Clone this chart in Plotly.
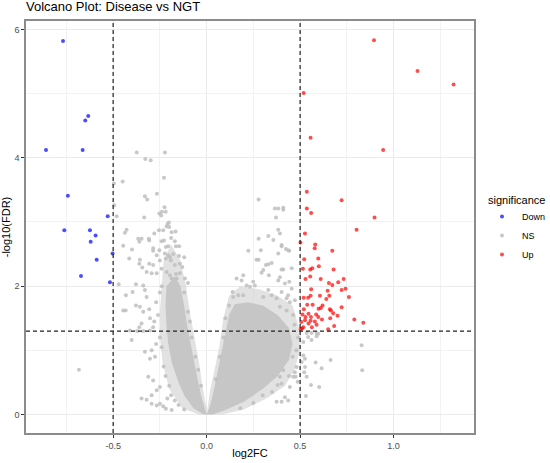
import plotly.graph_objects as go

# --- significant genes ---
down_x = [-0.768, -0.859, -0.663, -0.649, -0.633, -0.742, -0.529, -0.761, -0.624,
          -0.594, -0.620, -0.588, -0.672, -0.517, -0.503]
down_y = [5.82, 4.12, 4.12, 4.58, 4.65, 3.41, 3.09, 2.87, 2.87,
          2.79, 2.69, 2.41, 2.16, 2.06, 2.51]

up_x = [0.895, 1.128, 1.321, 0.519, 0.556, 0.944, 0.536, 0.722, 0.536, 0.559,
        0.898, 0.802, 0.526, 0.502, 0.581, 0.578, 0.672, 0.522, 0.597, 0.515,
        0.554, 0.565, 0.600, 0.679, 0.529, 0.554, 0.610, 0.733, 0.704, 0.654,
        0.672, 0.647, 0.722, 0.743, 0.559, 0.519, 0.543, 0.556, 0.606, 0.656,
        0.761, 0.640, 0.538, 0.567, 0.620, 0.722, 0.520, 0.599, 0.611, 0.659,
        0.665, 0.677, 0.513, 0.529, 0.545, 0.558, 0.586, 0.597, 0.617, 0.700,
        0.790, 0.661, 0.506, 0.526, 0.556, 0.579, 0.838, 0.545, 0.588, 0.682,
        0.650, 0.517, 0.503, 0.510, 0.563]
up_y = [5.83, 5.35, 5.14, 5.01, 4.31, 4.12, 3.47, 3.34, 3.21, 3.14,
        3.07, 2.88, 2.82, 2.68, 2.65, 2.59, 2.55, 2.42, 2.43, 2.27,
        2.26, 2.28, 2.31, 2.26, 2.11, 2.15, 2.11, 2.11, 2.06, 2.05,
        2.02, 1.93, 1.94, 1.96, 1.95, 1.82, 1.82, 1.85, 1.85, 1.85,
        1.83, 1.80, 1.71, 1.71, 1.70, 1.67, 1.64, 1.65, 1.66, 1.64,
        1.62, 1.58, 1.56, 1.52, 1.57, 1.52, 1.56, 1.52, 1.48, 1.54,
        1.48, 1.50, 1.44, 1.47, 1.46, 1.45, 1.43, 1.42, 1.40, 1.38,
        1.33, 1.36, 1.33, 1.34, 1.36]

# --- scattered non-significant genes (outliers and cloud fringe) ---
ns_x = [-0.374, -0.223, -0.328, -0.299, -0.228, -0.496, -0.449, -0.330, -0.318, -0.266,
        -0.494, -0.481, -0.334, -0.225, -0.253, -0.239, -0.219, -0.243, -0.209, -0.202,
        -0.200, -0.214, -0.428, -0.437, -0.255, -0.232, -0.280, -0.187, -0.166, -0.366,
        -0.309, -0.307, -0.446, -0.399, -0.241, -0.228, -0.286, -0.253, -0.218, -0.205,
        -0.164, -0.147, -0.223, -0.205, -0.218, -0.196, -0.178, -0.148, -0.414, -0.357,
        -0.360, -0.344, -0.286, -0.250, -0.241, -0.191, -0.170, -0.143, -0.321, -0.267,
        -0.214, -0.196, -0.164, -0.143, -0.187, -0.160, -0.116, -0.360, -0.348, -0.286,
        -0.267, -0.307, -0.294, -0.339, -0.378, -0.470,
        -0.432, -0.396, -0.330, -0.321, -0.446, -0.433, -0.378, -0.357, -0.339, -0.307,
        -0.348, -0.303, -0.360, -0.286, -0.410, -0.371, -0.339, -0.303, -0.401, -0.330,
        -0.294, -0.276, -0.303, -0.312, -0.286, -0.250, -0.267, -0.348, -0.321, -0.294,
        -0.250, -0.232, -0.218, -0.187, -0.294, -0.267, -0.683,
        -0.270, -0.260, -0.250, -0.240, -0.230, -0.220, -0.200, -0.190, -0.170, -0.150,
        -0.120, -0.250, -0.240, -0.280, -0.270, -0.210, -0.120, -0.100, -0.090, -0.080,
        -0.060, -0.045, -0.030, -0.100, -0.130, -0.120, -0.170, -0.190,
        0.278, 0.365, 0.383, 0.410, 0.410, 0.371, 0.278, 0.383, 0.392, 0.330,
        0.357, 0.223, 0.290, 0.401, 0.424, 0.442, 0.267, 0.278, 0.348, 0.330,
        0.317, 0.401, 0.455, 0.303, 0.294, 0.333, 0.392, 0.442, 0.196, 0.160,
        0.187, 0.249, 0.214, 0.232, 0.258, 0.139, 0.169, 0.196, 0.142, 0.330,
        0.348, 0.303, 0.374, 0.428, 0.445, 0.401, 0.436, 0.383, 0.410, 0.383,
        0.419, 0.455, 0.401, 0.436, 0.472, 0.392, 0.428, 0.463,
        0.597, 0.588, 0.543, 0.561, 0.517, 0.829, 0.663, 0.583, 0.615, 0.832,
        0.517, 0.526, 0.508, 0.526, 0.522, 0.535, 0.558, 0.602, 0.531, 0.476,
        0.472, 0.487, 0.419, 0.436, 0.401, 0.380, 0.392, 0.410, 0.374, 0.481,
        0.463, 0.401, 0.445, 0.535, 0.561, 0.588,
        0.050, 0.070, 0.090, 0.100, 0.120, 0.300, 0.250, 0.180, 0.480, 0.490,
        0.470, 0.350, 0.440, 0.460]
ns_y = [4.08, 4.08, 3.98, 3.96, 3.69, 3.60, 3.63, 3.40, 3.35, 3.44,
        3.26, 3.09, 3.07, 3.23, 3.13, 3.16, 3.16, 3.10, 2.97, 2.99,
        2.92, 2.93, 2.88, 2.83, 2.87, 2.87, 2.82, 2.84, 2.85, 2.74,
        2.74, 2.71, 2.63, 2.57, 2.70, 2.71, 2.55, 2.56, 2.61, 2.62,
        2.62, 2.62, 2.51, 2.48, 2.43, 2.45, 2.50, 2.47, 2.43, 2.41,
        2.35, 2.29, 2.33, 2.40, 2.27, 2.40, 2.33, 2.35, 2.22, 2.20,
        2.22, 2.17, 2.19, 2.20, 2.12, 2.12, 2.12, 2.69, 2.74, 2.59,
        2.48, 2.35, 2.20, 2.01, 2.03, 2.03,
        1.86, 1.91, 1.94, 1.83, 1.62, 1.62, 1.70, 1.68, 1.60, 1.64,
        1.42, 1.50, 1.36, 1.36, 1.31, 1.30, 1.30, 1.31, 1.16, 0.98,
        1.00, 0.90, 0.87, 0.59, 0.53, 0.43, 0.38, 0.25, 0.23, 0.30,
        0.17, 0.13, 0.09, 0.07, 0.17, 0.14, 0.70,
        1.75, 1.55, 1.20, 1.05, 0.75, 0.60, 0.45, 0.30, 0.22, 0.15,
        0.08, 1.90, 2.00, 1.45, 1.10, 0.25, 1.90, 1.60, 1.45, 1.20,
        0.90, 0.70, 0.45, 2.05, 2.30, 2.45, 2.70, 2.75,
        3.35, 3.21, 3.21, 3.22, 3.19, 3.07, 2.74, 2.88, 2.82, 2.78,
        2.72, 2.55, 2.56, 2.62, 2.58, 2.55, 2.41, 2.41, 2.36, 2.34,
        2.33, 2.26, 2.28, 2.25, 2.21, 2.17, 2.14, 2.07, 2.17, 2.12,
        2.09, 2.07, 2.01, 1.99, 2.01, 1.91, 1.86, 1.86, 1.83, 1.94,
        1.86, 1.83, 1.81, 1.81, 1.75, 2.64, 2.56, 2.51, 2.26, 2.09,
        2.04, 1.96, 1.91, 1.86, 1.78, 1.68, 1.62, 1.55,
        1.26, 1.22, 1.21, 1.16, 1.13, 1.08, 0.85, 0.81, 0.72, 0.69,
        0.92, 0.87, 0.82, 0.74, 0.66, 0.59, 0.46, 0.43, 0.29, 0.59,
        0.66, 0.51, 0.27, 0.22, 0.20, 0.46, 0.59, 0.69, 0.20, 0.74,
        0.59, 0.48, 0.43, 1.27, 1.27, 1.27,
        0.55, 0.90, 1.20, 1.50, 1.70, 0.30, 0.18, 0.10, 1.00, 1.20,
        1.40, 0.35, 0.60, 0.90]

# --- outlines of the dense, overplotted V-shaped cloud ---
core_left_x = [0.0, -0.01, -0.03, -0.045, -0.065, -0.085, -0.105, -0.12, -0.14, -0.17,
               -0.215, -0.22, -0.215, -0.205, -0.185, -0.15, -0.12, -0.07, -0.02]
core_left_y = [0.0, 0.1, 0.3, 0.5, 0.8, 1.1, 1.4, 1.7, 2.0, 2.15,
               2.0, 1.7, 1.4, 1.1, 0.8, 0.5, 0.3, 0.1, 0.01]
halo_left_x = [0.0, 0.0, -0.02, -0.04, -0.065, -0.09, -0.11, -0.14, -0.19, -0.23,
               -0.24, -0.25, -0.25, -0.235, -0.2, -0.13, -0.04]
halo_left_y = [0.0, 0.1, 0.4, 0.8, 1.2, 1.6, 2.0, 2.4, 2.65, 2.4,
               2.0, 1.6, 1.2, 0.8, 0.4, 0.1, 0.0]
core_right_x = [0.0, 0.02, 0.04, 0.06, 0.08, 0.10, 0.12, 0.15, 0.22, 0.30,
                0.38, 0.44, 0.46, 0.44, 0.38, 0.30, 0.20, 0.10, 0.03]
core_right_y = [0.0, 0.15, 0.4, 0.7, 1.0, 1.3, 1.55, 1.72, 1.75, 1.7,
                1.55, 1.35, 1.1, 0.85, 0.6, 0.4, 0.2, 0.07, 0.0]
halo_right_x = [0.0, 0.02, 0.05, 0.07, 0.09, 0.12, 0.18, 0.28, 0.38, 0.46,
                0.49, 0.50, 0.47, 0.42, 0.32, 0.20, 0.08]
halo_right_y = [0.0, 0.4, 0.8, 1.1, 1.5, 1.85, 2.0, 1.95, 1.85, 1.7,
                1.4, 1.0, 0.7, 0.45, 0.25, 0.08, 0.0]

fc_cut = 0.5
fdr_cut = 1.301  # -log10(0.05)

GREY = "rgba(190,190,190,0.85)"
BLUE = "rgba(0,0,255,0.7)"
RED = "rgba(255,0,0,0.7)"

W, H = 550, 463
M = dict(l=26, r=76, t=21, b=30)
plot_w = W - M["l"] - M["r"]
plot_h = H - M["t"] - M["b"]

fig = go.Figure()

# dense cloud (halo first, solid core on top)
for px_, py_, col in [(halo_left_x, halo_left_y, "rgba(198,198,198,0.5)"),
                      (halo_right_x, halo_right_y, "rgba(198,198,198,0.5)"),
                      (core_left_x, core_left_y, "rgb(198,198,198)"),
                      (core_right_x, core_right_y, "rgb(198,198,198)")]:
    fig.add_trace(go.Scatter(x=px_, y=py_, mode="lines", fill="toself",
                             fillcolor=col, line=dict(width=0),
                             showlegend=False, hoverinfo="skip"))

fig.add_trace(go.Scatter(x=ns_x, y=ns_y, mode="markers", name="NS", legendrank=2,
                         marker=dict(color=GREY, size=4, line=dict(width=0))))
fig.add_trace(go.Scatter(x=down_x, y=down_y, mode="markers", name="Down", legendrank=1,
                         marker=dict(color=BLUE, size=4, line=dict(width=0))))
fig.add_trace(go.Scatter(x=up_x, y=up_y, mode="markers", name="Up", legendrank=3,
                         marker=dict(color=RED, size=4, line=dict(width=0))))

# threshold lines
dash = dict(color="#222222", width=1.2, dash="4px,3px")
for xv in (-fc_cut, fc_cut):
    fig.add_shape(type="line", x0=xv, x1=xv, y0=0, y1=1, xref="x", yref="paper", line=dash)
fig.add_shape(type="line", x0=0, x1=1, y0=fdr_cut, y1=fdr_cut, xref="paper", yref="y", line=dash)

# legend title drawn as text so it lines up like ggplot's
fig.add_annotation(text="significance", xref="paper", yref="paper",
                   x=(546 - M["l"]) / plot_w, y=(H - M["b"] - 200) / plot_h,
                   xanchor="right", yanchor="middle", showarrow=False, borderpad=0,
                   font=dict(size=11, color="black"))

axis_common = dict(
    showgrid=True, gridcolor="#EBEBEB", gridwidth=1, automargin=False,
    zeroline=False, showline=True, linecolor="#8C8C8C", linewidth=1.5, mirror=True,
    ticks="outside", ticklen=3, tickcolor="#333333", tickwidth=1,
    tickfont=dict(size=9, color="#4D4D4D"),
)

fig.update_layout(
    width=W, height=H,
    margin=dict(**M, autoexpand=False),
    paper_bgcolor="white", plot_bgcolor="white",
    font=dict(family="Liberation Sans, Arial, sans-serif", color="black"),
    title=dict(text="Volcano Plot: Disease vs NGT", font=dict(size=13, color="black"),
               x=26 / W, xanchor="left", xref="container",
               y=1 - 2 / H, yanchor="top", yref="container"),
    xaxis=dict(range=[-0.966, 1.43], tickvals=[-0.5, 0, 0.5, 1.0],
               ticktext=["-0.5", "0.0", "0.5", "1.0"],
               minor=dict(tickvals=[-0.75, -0.25, 0.25, 0.75, 1.25], showgrid=True,
                          gridcolor="#F2F2F2", ticks=""),
               title=dict(text="log2FC", font=dict(size=11), standoff=0),
               **axis_common),
    yaxis=dict(range=[-0.287, 6.13], tickvals=[0, 2, 4, 6],
               minor=dict(tickvals=[1, 3, 5], showgrid=True, gridcolor="#F2F2F2", ticks=""),
               title=dict(text="-log10(FDR)", font=dict(size=11), standoff=2),
               **axis_common),
    legend=dict(font=dict(size=9), x=(482 - M["l"]) / plot_w, xanchor="left",
                y=(H - M["b"] - 202) / plot_h, yanchor="top",
                itemsizing="trace", bgcolor="rgba(0,0,0,0)"),
    showlegend=True,
)

fig.write_html("out.html", config={"displayModeBar": False},
               post_script="document.body.style.margin='0';")
